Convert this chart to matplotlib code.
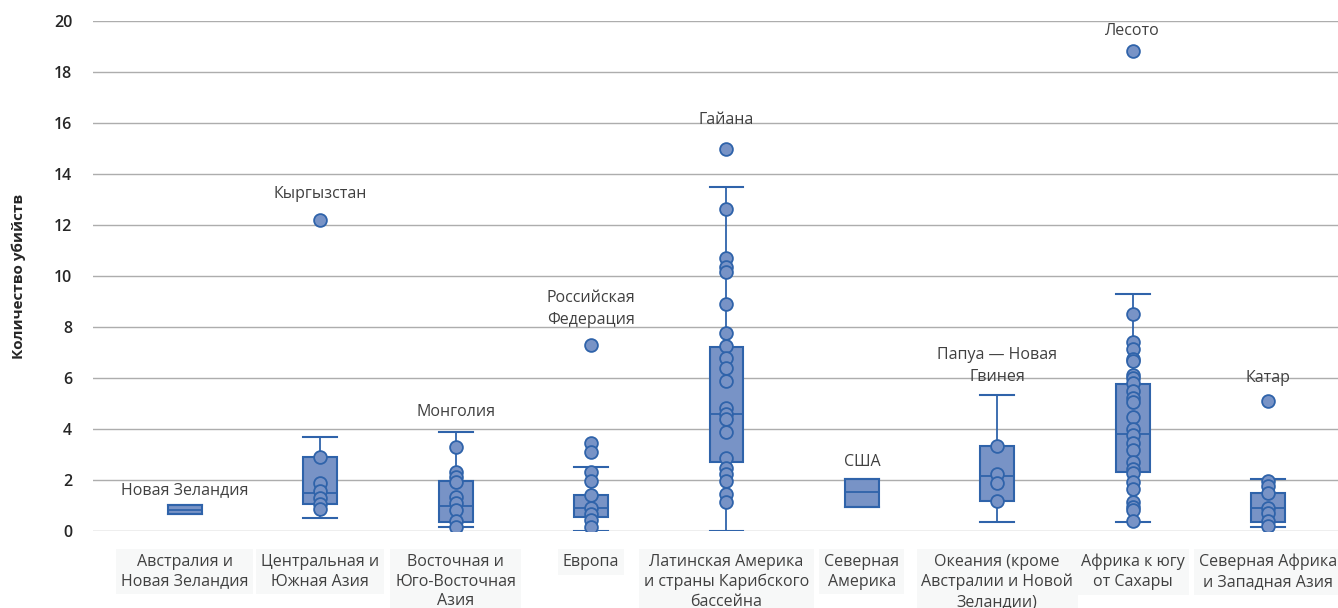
import matplotlib.pyplot as plt

# categories (x tick labels)
categories = [
    "Австралия и\nНовая Зеландия",
    "Центральная и\nЮжная Азия",
    "Восточная и\nЮго-Восточная\nАзия",
    "Европа",
    "Латинская Америка\nи страны Карибского\nбассейна",
    "Северная\nАмерика",
    "Океания (кроме\nАвстралии и Новой\nЗеландии)",
    "Африка к югу\nот Сахары",
    "Северная Африка\nи Западная Азия",
]

# box statistics
q1 = [0.67, 1.06, 0.34, 0.56, 2.72, 0.95, 1.19, 2.31, 0.34]
med = [0.82, 1.50, 0.98, 0.89, 4.59, 1.52, 2.17, 3.79, 0.89]
q3 = [1.02, 2.90, 1.95, 1.43, 7.22, 2.03, 3.33, 5.78, 1.50]
whislo = [0.67, 0.52, 0.15, 0.01, 0.0, 0.95, 0.34, 0.34, 0.17]
whishi = [1.02, 3.70, 3.88, 2.52, 13.48, 2.03, 5.35, 9.31, 2.04]

# individual country values
pts_aus = []
pts_csa = [12.2, 2.91, 1.90, 1.58, 1.28, 1.06, 0.85]
pts_esa = [3.28, 2.32, 2.13, 1.92, 1.32, 1.09, 0.84, 0.38, 0.15]
pts_eur = [7.29, 3.45, 3.11, 2.30, 1.97, 1.40, 0.92, 0.66, 0.42, 0.17]
pts_lat = [14.98, 12.63, 10.69, 10.34, 10.17, 8.89, 7.75, 7.26, 6.77, 6.40,
           5.88, 4.83, 4.58, 4.39, 3.90, 2.85, 2.48, 2.23, 1.97, 1.45, 1.13]
pts_nam = []
pts_oce = [3.35, 2.22, 1.90, 1.19]
pts_afr = [18.82, 8.50, 7.40, 7.13, 6.76, 6.67, 6.12, 5.99, 5.79, 5.50, 5.20,
           5.07, 4.46, 3.99, 3.76, 3.46, 3.18, 2.72, 2.42, 2.29, 1.91, 1.65,
           1.15, 0.95, 0.82, 0.39]
pts_naf = [5.11, 1.97, 1.76, 1.48, 0.91, 0.69, 0.40, 0.21]
points = [pts_aus, pts_csa, pts_esa, pts_eur, pts_lat, pts_nam, pts_oce, pts_afr, pts_naf]

# labelled countries: (category index, text, y position of label)
label_idx = [0, 1, 2, 3, 4, 5, 6, 7, 8]
label_txt = ["Новая Зеландия", "Кыргызстан", "Монголия", "Российская\nФедерация",
             "Гайана", "США", "Папуа — Новая\nГвинея", "Лесото", "Катар"]
label_y = [1.6, 13.2, 4.67, 8.7, 16.1, 2.7, 6.47, 19.6, 6.0]

box_fill = "#7893c6"
edge = "#2f63aa"
grid_col = "#adadad"

plt.rcParams["font.family"] = ["Open Sans", "DejaVu Sans"]

fig = plt.figure(figsize=(13.38, 6.08), dpi=100)
ax = fig.add_axes([93 / 1338, 77 / 608, 1245 / 1338, 510 / 608])

stats = []
for i in range(len(categories)):
    stats.append(dict(q1=q1[i], med=med[i], q3=q3[i],
                      whislo=whislo[i], whishi=whishi[i], fliers=[]))

ax.bxp(stats, positions=range(len(categories)), widths=0.25, patch_artist=True,
       showfliers=False,
       boxprops=dict(facecolor=box_fill, edgecolor=edge, linewidth=1.5),
       medianprops=dict(color=edge, linewidth=1.3),
       whiskerprops=dict(color=edge, linewidth=1.3),
       capprops=dict(color=edge, linewidth=1.5),
       capwidths=0.25, zorder=3)

for i, vals in enumerate(points):
    if vals:
        ax.plot([i] * len(vals), vals, "o", ms=9.2, mfc=box_fill, mec=edge,
                mew=1.3, zorder=4, linestyle="none")

for i, t, y in zip(label_idx, label_txt, label_y):
    ax.text(i, y, t, ha="center", va="center", fontsize=11.5, color="#404040",
            linespacing=1.55, zorder=5)

ax.set_ylim(0, 20)
ax.set_xlim(-0.679, 8.517)
ax.set_yticks(range(0, 21, 2))
ax.yaxis.grid(True, color=grid_col, linewidth=1)
ax.set_axisbelow(True)
for s in ax.spines.values():
    s.set_visible(False)
ax.tick_params(axis="both", length=0)
ax.tick_params(axis="y", pad=15, labelsize=11.5, labelcolor="#262626")
for lab in ax.get_yticklabels():
    lab.set_fontweight("semibold")

ax.set_xticks(range(len(categories)))
ax.set_xticklabels([])
for i, c in enumerate(categories):
    ax.text(i, -0.9, c, ha="center", va="top", fontsize=11.5, color="#404040",
            linespacing=1.3,
            bbox=dict(facecolor="#f7f8f8", edgecolor="none", boxstyle="square,pad=0.3"))

ax.set_ylabel("Количество убийств", fontsize=11, fontweight="bold",
              color="#262626", labelpad=20)

fig.savefig("out.png", dpi=100)
